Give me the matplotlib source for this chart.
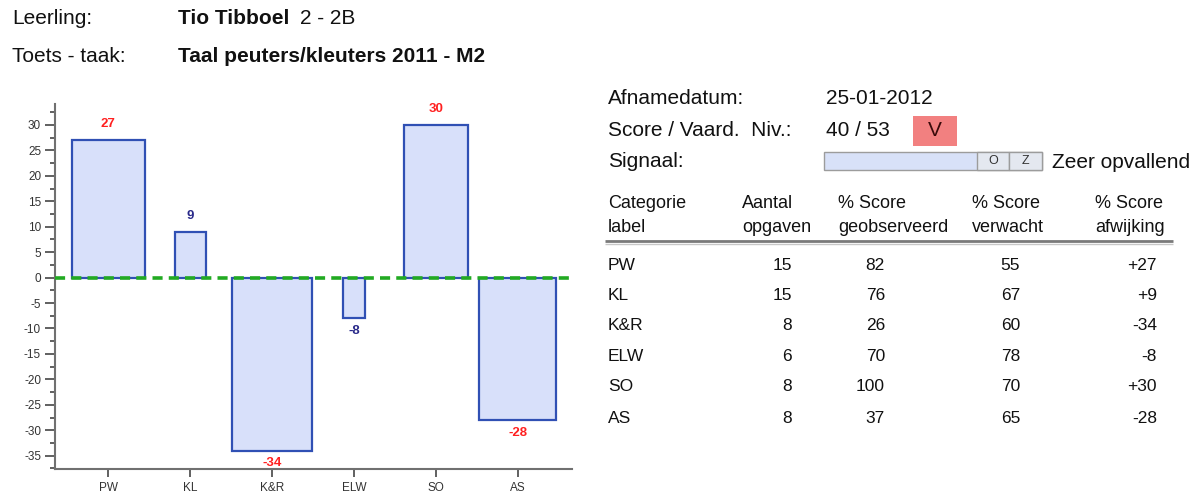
import matplotlib
matplotlib.use("Agg")
import matplotlib.pyplot as plt
from matplotlib.patches import Rectangle
from matplotlib.ticker import MultipleLocator

plt.rcParams["font.family"] = ["Liberation Sans", "DejaVu Sans"]
plt.rcParams["axes.unicode_minus"] = False

# data
categories = ["PW", "KL", "K&R", "ELW", "SO", "AS"]
aantal = [15, 15, 8, 6, 8, 8]
observed = [82, 76, 26, 70, 100, 37]
expected = [55, 67, 60, 78, 70, 65]
deviation = [27, 9, -34, -8, 30, -28]
bar_widths = [0.89, 0.38, 0.98, 0.26, 0.79, 0.94]

student = "Tio Tibboel"
group = "2 - 2B"
test_name = "Taal peuters/kleuters 2011 - M2"
test_date = "25-01-2012"
score = "40 / 53"
level = "V"
signal = "Zeer opvallend"

W, H = 1200, 494
fig = plt.figure(figsize=(W / 100, H / 100), dpi=100)

# overlay in pixel coordinates for the report texts
ov = fig.add_axes([0, 0, 1, 1])
ov.set_xlim(0, W)
ov.set_ylim(H, 0)
ov.axis("off")

txt = dict(fontsize=15, color="#111111", va="center", ha="left")
ov.text(12, 18, "Leerling:", **txt)
ov.text(178, 18, student, fontweight="bold", **txt)
ov.text(300, 18, group, **txt)
ov.text(12, 57, "Toets - taak:", **txt)
ov.text(178, 57, test_name, fontweight="bold", **txt)

ov.text(608, 98, "Afnamedatum:", **txt)
ov.text(826, 98, test_date, **txt)
ov.text(608, 130, "Score / Vaard.  Niv.:", **txt)
ov.text(826, 130, score, **txt)
ov.add_patch(Rectangle((913, 116), 44, 30, facecolor="#f28080", edgecolor="none"))
ov.text(935, 130, level, fontsize=15, color="#3a0a0a", ha="center", va="center")
ov.text(608, 161, "Signaal:", **txt)

# signal bar
ov.add_patch(Rectangle((824, 152), 218, 18, facecolor="#d8e1f8", edgecolor="#9c9c9c", lw=1))
ov.add_patch(Rectangle((977, 152), 32, 18, facecolor="#e4e8f0", edgecolor="#9c9c9c", lw=1))
ov.add_patch(Rectangle((1009, 152), 33, 18, facecolor="#e4e8f0", edgecolor="#9c9c9c", lw=1))
ov.text(993, 161, "O", fontsize=9, color="#333333", ha="center", va="center")
ov.text(1025, 161, "Z", fontsize=9, color="#333333", ha="center", va="center")
ov.text(1052, 162, signal, **txt)

# table
col_x = [608, 742, 838, 972, 1095]
headers = [("Categorie", "label"), ("Aantal", "opgaven"), ("% Score", "geobserveerd"),
           ("% Score", "verwacht"), ("% Score", "afwijking")]
head = dict(fontsize=13, color="#111111", va="center", ha="left")
for x, (h1, h2) in zip(col_x, headers):
    ov.text(x, 203, h1, **head)
    ov.text(x, 227, h2, **head)
ov.plot([605, 1173], [241, 241], color="#7a7a7a", lw=2, solid_capstyle="butt")
ov.plot([605, 1173], [243.5, 243.5], color="#c8c8c8", lw=1, solid_capstyle="butt")

row_y = [265, 295, 325, 356, 386, 418]
right_x = [792, 885, 1020, 1157]
cell = dict(fontsize=12.5, color="#111111", va="center")
for i, cat in enumerate(categories):
    y = row_y[i]
    ov.text(608, y, cat, ha="left", **cell)
    vals = [str(aantal[i]), str(observed[i]), str(expected[i]), f"{deviation[i]:+d}"]
    for rx, v in zip(right_x, vals):
        ov.text(rx, y, v, ha="right", **cell)

# bar chart
ax = fig.add_axes([55 / W, 1 - 469 / H, (572 - 55) / W, (469 - 104) / H])
ax.patch.set_alpha(0)
xpos = list(range(1, len(categories) + 1))
ax.bar(xpos, deviation, width=bar_widths, color="#d8e0fa", edgecolor="#3050b4",
       linewidth=1.6, zorder=2)
ax.axhline(0, color="#22aa22", lw=2.6, dashes=(2.8, 1.7), zorder=3)

for x, v in zip(xpos, deviation):
    color = "#ff2020" if abs(v) >= 15 else "#2a2a8a"
    off = 11.5 if v > 0 else -9
    ax.annotate(str(v), (x, v), xytext=(0, off), textcoords="offset points",
                ha="center", va="center", fontsize=9.5, fontweight="bold", color=color)

ax.set_xlim(0.35, 6.66)
ax.set_ylim(-37.6, 34.1)
ax.set_xticks(xpos)
ax.set_xticklabels(categories)
ax.yaxis.set_major_locator(MultipleLocator(5))
ax.yaxis.set_minor_locator(MultipleLocator(2.5))
ax.tick_params(axis="y", which="major", length=7, width=1.4, color="#606060",
               labelsize=8.5, labelcolor="#333333", pad=3)
ax.tick_params(axis="y", which="minor", length=3.5, width=1.4, color="#606060")
ax.tick_params(axis="x", length=6, width=1.4, color="#606060", labelsize=8.5,
               labelcolor="#333333", pad=3)
for side in ("top", "right"):
    ax.spines[side].set_visible(False)
for side in ("left", "bottom"):
    ax.spines[side].set_color("#707070")
    ax.spines[side].set_linewidth(1.5)

fig.savefig("out.png", dpi=100)
